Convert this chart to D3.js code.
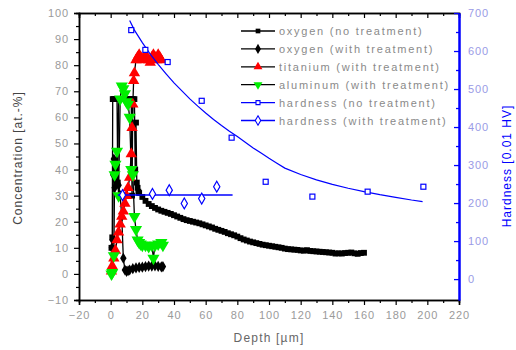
<!DOCTYPE html>
<html>
<head>
<meta charset="utf-8">
<script src="https://cdn.jsdelivr.net/npm/d3@7"></script>
<style>
  body { margin: 0; background: #fff; }
  svg { font-family: "Liberation Sans", Arial, sans-serif; }
</style>
</head>
<body>
<div id="chart"></div>
<script>
// DATA
// ---------------------------------------------------------------------------
const oxyNoDepth = [0.5, 1, 1.3, 2, 3, 4, 4.5, 5, 6, 7, 8, 9, 10, 11, 12, 13, 13.5, 14, 15, 15.5, 16, 16.5, 17, 17.5,
  18, 20, 22, 24, 26, 28, 30, 32, 34, 36, 38, 40, 42, 44, 46, 48, 50, 52, 54, 56, 58, 60, 62, 64, 66, 68, 70,
  72, 74, 76, 78, 80, 82, 84, 86, 88, 90, 92, 94, 96, 98, 100, 102, 104, 106, 108, 110, 112, 114, 116, 118, 120,
  122, 124, 126, 128, 130, 132, 134, 136, 138, 140, 142, 144, 146, 148, 150, 152, 154, 156, 158, 160];
const oxyNoConc = [10, 14, 67, 67, 67, 67, 35, 67, 67, 67, 67, 67, 67, 67, 67, 67, 30, 67, 67, 40, 58, 35, 33, 31.5,
  31, 29.5, 28, 26.8, 26, 25.3, 24.7, 24.2, 23.8, 23.4, 23, 22.5, 22, 21.5, 21, 20.6, 20.3, 20, 19.7, 19.4, 19, 18.6, 18.2, 17.8, 17.3, 16.9, 16.5,
  16.1, 15.6, 15.2, 14.8, 14.3, 13.7, 13.2, 12.8, 12.4, 12.1, 11.8, 11.5, 11.2, 11, 10.8, 10.6, 10.4, 10.2, 10, 9.7, 9.5, 9.4, 9.3, 9.2, 9,
  8.9, 9.1, 8.8, 8.7, 8.6, 8.5, 8.4, 8.3, 8.2, 8.1, 7.8, 7.9, 7.8, 8, 8.1, 8.2, 7.9, 7.7, 8, 8.1];

const oxyTrDepth = [0.3, 0.8, 1.2, 1.6, 2, 2.5, 3, 3.5, 4, 5, 6, 7, 8, 9, 10, 11, 12, 14, 16, 18, 20, 22, 24, 26, 28, 30, 32, 33];
const oxyTrConc = [2, 10, 13, 38, 44, 33, 41, 36, 42, 34, 30, 22, 6, 1.5, 1, 1.2, 1.5, 2, 2.3, 2.5, 2.6, 2.8, 3, 3, 3.1, 2.9, 2.7, 2.8];

const tiDepth = [0.5, 1, 2, 3, 4, 5, 6, 7, 8, 9, 10, 11, 12, 13, 13.5, 14, 14.5, 15, 16, 17, 18, 19, 20, 21, 22, 23, 24, 25, 26, 27, 28, 29, 30, 31, 32];
const tiConc = [1, 3, 6, 9, 13, 16, 19, 22, 24, 27, 30, 33, 37, 46, 56, 65, 74, 77, 82, 83, 84, 83, 82, 83, 84, 83, 82, 81, 83, 84, 83, 82, 84, 83, 82];

const alDepth = [0.5, 1, 2, 2.5, 3, 4, 5, 6, 7, 8, 9, 10, 11, 12, 13, 14, 15, 16, 17, 18, 19, 20, 22, 24, 26, 27, 28, 30, 32, 33];
const alConc = [0, 0.5, 7, 38, 42, 47, 30, 67, 72, 71, 69, 66, 65, 60, 40, 38, 22, 17, 13, 12, 11.5, 11, 11, 10.5, 11, 6, 11, 11.5, 12, 11];

const hvNoDepth = [13, 21.9, 36, 57.5, 76.4, 97.9, 127.4, 162.3, 197.5];
const hvNoValue = [655, 603, 571, 469, 372, 256, 217, 230, 243];
// fitted decay curve for the untreated hardness
const hvFitDepth = [12, 15, 20, 25, 30, 35, 40, 45, 50, 55, 60, 65, 70, 75, 80, 85, 90, 95, 100, 105, 110, 120, 130, 140, 150, 160, 170, 180, 190, 197];
const hvFitValue = [680, 655, 622, 592, 565, 540, 516, 495, 474, 455, 437, 420, 404, 389, 375, 360, 345, 332, 318, 305, 292, 275, 261, 249, 239, 230, 222, 215, 208, 204];

const hvTrDepth = [7.5, 26.4, 37, 46.5, 57.5, 67];
const hvTrValue = [221, 224, 234, 199, 212, 243];
const hvTrMeanDepth = [4.5, 77];
const hvTrMean = 221;

const legendLabels = ["oxygen (no treatment)", "oxygen (with treatment)", "titanium (with treatment)",
  "aluminum (with treatment)", "hardness (no treatment)", "hardness (with treatment)"];

// SCALES
// ---------------------------------------------------------------------------
const W = 516, H = 350;
const margin = { top: 13, right: 57, bottom: 50, left: 79 };
const x = d3.scaleLinear([-20, 220], [margin.left, W - margin.right]);
const y = d3.scaleLinear([-10, 100], [H - margin.bottom, margin.top]);
const y2 = d3.scaleLinear([-55, 700], [H - margin.bottom, margin.top]);

const svg = d3.select("#chart").append("svg")
  .attr("width", W).attr("height", H);
svg.append("rect").attr("width", W).attr("height", H).attr("fill", "#fff");

const plot = svg.append("g");

// SERIES
// ---------------------------------------------------------------------------
function zip(a, b) { return a.map((d, i) => [d, b[i]]); }

const series = [
  { pts: zip(oxyNoDepth, oxyNoConc), sym: d3.symbolSquare, size: 34, fill: "#000" },
  { pts: zip(oxyTrDepth, oxyTrConc), sym: d3.symbolDiamond, size: 36, fill: "#000" },
  { pts: zip(tiDepth, tiConc), sym: d3.symbolTriangle, size: 56, fill: "#ff0000", rot: 0 },
  { pts: zip(alDepth, alConc), sym: d3.symbolTriangle, size: 64, fill: "#00ee00", rot: 180 }
];

const line = d3.line().x(d => x(d[0])).y(d => y(d[1]));

series.forEach(s => {
  plot.append("path")
    .attr("d", line(s.pts))
    .attr("fill", "none")
    .attr("stroke", "#000")
    .attr("stroke-width", 1.3);
});
series.forEach(s => {
  plot.selectAll(null)
    .data(s.pts)
    .enter().append("path")
    .attr("d", d3.symbol(s.sym, s.size))
    .attr("transform", d => `translate(${x(d[0])},${y(d[1])}) rotate(${s.rot || 0})`)
    .attr("fill", s.fill);
});

// hardness
const blue = "#0000ff";
plot.append("path")
  .attr("d", d3.line().x(d => x(d[0])).y(d => y2(d[1]))(zip(hvFitDepth, hvFitValue)))
  .attr("fill", "none").attr("stroke", blue).attr("stroke-width", 1.2);

plot.append("line")
  .attr("x1", x(hvTrMeanDepth[0])).attr("x2", x(hvTrMeanDepth[1]))
  .attr("y1", y2(hvTrMean)).attr("y2", y2(hvTrMean))
  .attr("stroke", blue).attr("stroke-width", 1.5);

plot.selectAll(null)
  .data(zip(hvNoDepth, hvNoValue))
  .enter().append("rect")
  .attr("x", d => x(d[0]) - 2.5).attr("y", d => y2(d[1]) - 2.5)
  .attr("width", 5).attr("height", 5)
  .attr("fill", "#fff").attr("stroke", blue).attr("stroke-width", 1.2);

plot.selectAll(null)
  .data(zip(hvTrDepth, hvTrValue))
  .enter().append("path")
  .attr("d", d3.symbol(d3.symbolDiamond, 34))
  .attr("transform", d => `translate(${x(d[0])},${y2(d[1])})`)
  .attr("fill", "#fff").attr("stroke", blue).attr("stroke-width", 1.2);

// AXES
// ---------------------------------------------------------------------------
const tickFont = g => g.selectAll("text")
  .attr("fill", "#9a9a9a").style("font-size", "11px").style("letter-spacing", "0.9px");

const bottomAxis = svg.append("g")
  .attr("transform", `translate(0,${H - margin.bottom})`)
  .call(d3.axisBottom(x).tickValues(d3.range(-20, 221, 20)).tickSize(5).tickPadding(6));
svg.append("g")
  .attr("transform", `translate(0,${H - margin.bottom})`)
  .call(d3.axisBottom(x).tickValues(d3.range(-10, 220, 20)).tickSize(3).tickFormat(""));
tickFont(bottomAxis);

// top axis, inward ticks
svg.append("g")
  .attr("transform", `translate(0,${margin.top})`)
  .call(d3.axisBottom(x).tickValues(d3.range(-20, 221, 20)).tickSize(5).tickFormat(""));
svg.append("g")
  .attr("transform", `translate(0,${margin.top})`)
  .call(d3.axisBottom(x).tickValues(d3.range(-10, 220, 20)).tickSize(3).tickFormat(""));

const leftAxis = svg.append("g")
  .attr("transform", `translate(${margin.left},0)`)
  .call(d3.axisLeft(y).tickValues(d3.range(-10, 101, 10)).tickSize(5).tickPadding(5));
svg.append("g")
  .attr("transform", `translate(${margin.left},0)`)
  .call(d3.axisLeft(y).tickValues(d3.range(-5, 100, 10)).tickSize(3).tickFormat(""));
tickFont(leftAxis);

svg.selectAll(".domain").attr("stroke-width", 1.5);
svg.selectAll(".tick line").attr("stroke-width", 1.2);

const rightAxis = svg.append("g")
  .attr("transform", `translate(${W - margin.right},0)`)
  .call(d3.axisRight(y2).tickValues(d3.range(0, 701, 100)).tickSizeInner(-5).tickSizeOuter(0).tickPadding(9));
const rightMinor = svg.append("g")
  .attr("transform", `translate(${W - margin.right},0)`)
  .call(d3.axisRight(y2).tickValues(d3.range(50, 700, 100)).tickSizeInner(-3).tickSizeOuter(0).tickFormat(""));
tickFont(rightAxis);
rightAxis.selectAll("text").attr("fill", "#9a9ae6");
[rightAxis, rightMinor].forEach(g => {
  g.selectAll(".tick line").attr("stroke", blue).attr("stroke-width", 1.3);
  g.select(".domain").attr("stroke", blue).attr("stroke-width", 2);
});

// LEGEND
// ---------------------------------------------------------------------------
const legendSyms = [
  { sym: d3.symbolSquare, size: 22, fill: "#000", stroke: "none", line: "#000" },
  { sym: d3.symbolDiamond, size: 30, fill: "#000", stroke: "none", line: "#000" },
  { sym: d3.symbolTriangle, size: 34, fill: "#ff0000", stroke: "none", line: "#000" },
  { sym: d3.symbolTriangle, size: 34, fill: "#00ee00", stroke: "none", line: "#000", rot: 180 },
  { sym: d3.symbolSquare, size: 16, fill: "#fff", stroke: blue, line: blue },
  { sym: d3.symbolDiamond, size: 26, fill: "#fff", stroke: blue, line: blue }
];

const legend = svg.append("g");
legendLabels.forEach((label, i) => {
  const ly = 31 + i * 17.9;
  const s = legendSyms[i];
  legend.append("line")
    .attr("x1", 241).attr("x2", 275).attr("y1", ly).attr("y2", ly)
    .attr("stroke", s.line).attr("stroke-width", 1.3);
  legend.append("path")
    .attr("d", d3.symbol(s.sym, s.size))
    .attr("transform", `translate(258,${ly}) rotate(${s.rot || 0})`)
    .attr("fill", s.fill).attr("stroke", s.stroke).attr("stroke-width", 1.1);
  legend.append("text")
    .attr("x", 279).attr("y", ly + 4)
    .attr("fill", "#8a8a8a")
    .style("font-size", "11px")
    .style("letter-spacing", "1.75px")
    .text(label);
});

// AXIS TITLES
// ---------------------------------------------------------------------------
svg.append("text")
  .attr("text-anchor", "middle")
  .attr("transform", `translate(22,158) rotate(-90)`)
  .attr("fill", "#444")
  .style("font-size", "12px")
  .style("letter-spacing", "1px")
  .text("Concentration [at.-%]");

svg.append("text")
  .attr("text-anchor", "middle")
  .attr("transform", `translate(511,166) rotate(-90)`)
  .attr("fill", blue)
  .style("font-size", "12px")
  .style("letter-spacing", "1px")
  .text("Hardness [0.01 HV]");

svg.append("text")
  .attr("text-anchor", "middle")
  .attr("x", 269).attr("y", 342)
  .attr("fill", "#666")
  .style("font-size", "12px")
  .style("letter-spacing", "1.2px")
  .text("Depth [µm]");
</script>
</body>
</html>
